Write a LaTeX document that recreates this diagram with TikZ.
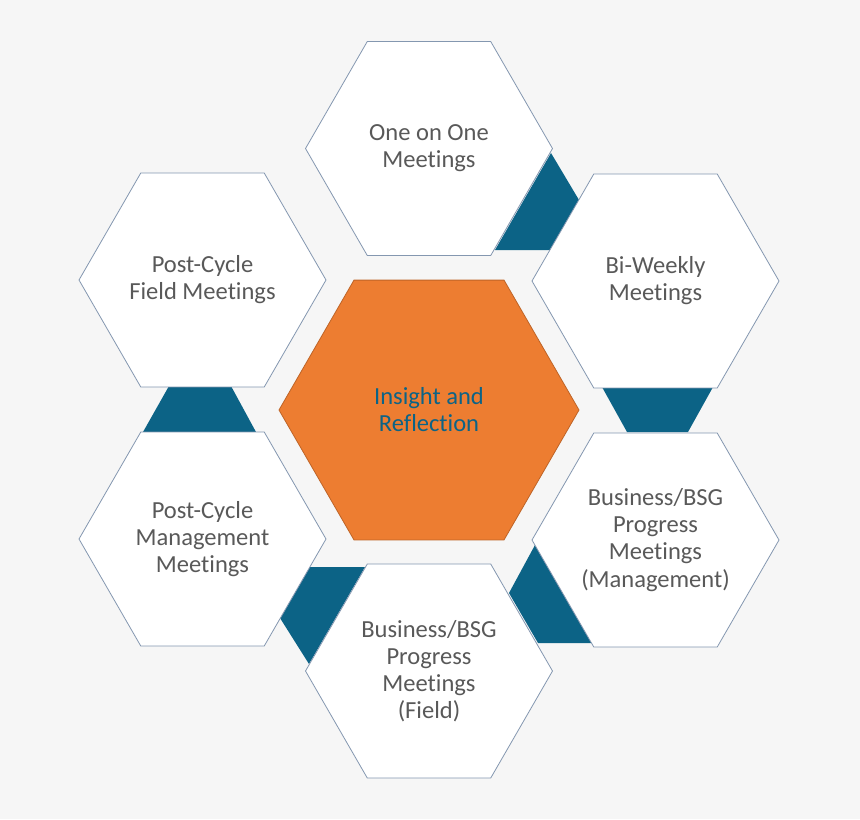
\documentclass[tikz,border=0pt]{standalone}
\usepackage{fontspec}
\setmainfont{Carlito}[RawFeature={-liga;-clig;-calt;-rlig;-dlig}]
\usepackage{tikz}
\usetikzlibrary{shapes.geometric,positioning,calc}

\definecolor{bgGray}{HTML}{F6F6F6}
\definecolor{hexOrange}{HTML}{ED7D31}
\definecolor{linkTeal}{HTML}{0C6386}
\definecolor{hexLine}{HTML}{8497B0}
\definecolor{txtGray}{HTML}{595959}

\begin{document}
\begin{tikzpicture}[
    x=0.75pt, y=-0.75pt,
    hex/.style={regular polygon, regular polygon sides=6, draw=hexLine, line width=0.6pt, fill=white, minimum size=185.25pt, inner sep=0pt, align=center, text=txtGray, font=\fontsize{18.4}{20.3}\selectfont},
    core/.style={hex, minimum size=225pt, fill=hexOrange, draw=hexOrange!80!black, text=linkTeal},
    link/.style={fill=linkTeal, draw=none}
]

% Canvas
\fill[bgGray] (0,0) rectangle (860,819);
\useasboundingbox (0,0) rectangle (860,819);

% Teal links between neighbouring hexagons
\fill[link] (551,153) -- (579,200) -- (550,250) -- (495,250) -- cycle;
\fill[link] (602,387) -- (713,387) -- (688,432) -- (627,432) -- cycle;
\fill[link] (535,545) -- (509,593) -- (538,643) -- (592,643) -- cycle;
\fill[link] (309,567) -- (365,567) -- (309,664) -- (280,618) -- cycle;
\fill[link] (169,386) -- (231,386) -- (256,432) -- (143,432) -- cycle;

% Center
\node[core] (insight) at (429,410) {Insight and\\Reflection};

% Ring of meetings
\node[hex] (oneone) at (429,148.5) {One on One\\Meetings};
\node[hex] (biweekly) at (655.5,281) {Bi-Weekly\\Meetings};
\node[hex] (bsgmgmt) at (655.5,540) {Business/BSG\\Progress\\Meetings\\(Management)};
\node[hex] (bsgfield) at (429,671) {Business/BSG\\Progress\\Meetings\\(Field)};
\node[hex] (pcmgmt) at (202.5,539) {Post-Cycle\\Management\\Meetings};
\node[hex] (pcfield) at (202.5,280) {Post-Cycle\\Field Meetings};

\end{tikzpicture}
\end{document}
